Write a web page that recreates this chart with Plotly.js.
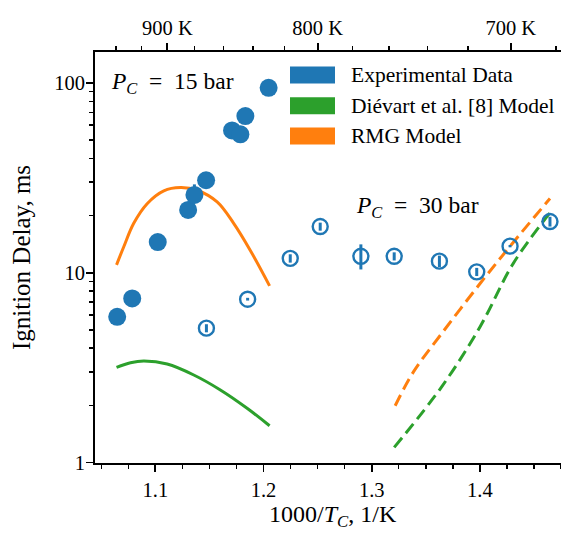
<!DOCTYPE html>
<html><head><meta charset="utf-8">
<script src="https://cdn.plot.ly/plotly-3.0.1.min.js"></script>
<style>html,body{margin:0;padding:0;background:#fff}#chart{width:561px;height:533px}</style>
</head><body><div id="chart"></div>
<script>
// ---- Experimental data, P_C = 15 bar (filled circles)
const exp15X = [1.0647, 1.0786, 1.1022, 1.1303, 1.1361, 1.1469, 1.1709, 1.1786, 1.1832, 1.2047];
const exp15Y = [5.85, 7.32, 14.5, 21.4, 25.7, 30.7, 56.2, 53.6, 66.9, 94.3];
const exp15ErrPlus  = [0.3, 0.35, 0.7, 1.0, 3.5, 1.4, 2.5, 2.5, 3.0, 4.0];
const exp15ErrMinus = [0.3, 0.35, 0.7, 1.0, 1.2, 1.4, 2.5, 2.5, 3.0, 4.0];
// ---- Experimental data, P_C = 30 bar (open circles)
const exp30X = [1.1472, 1.1853, 1.2247, 1.2524, 1.2900, 1.3208, 1.3626, 1.3971, 1.4279, 1.4648];
const exp30Y = [5.1, 7.25, 11.9, 17.5, 12.2, 12.2, 11.5, 10.1, 13.8, 18.6];
const exp30ErrPlus  = [0.25, 0.12, 0.6, 0.85, 1.9, 0.6, 0.8, 0.5, 0.2, 1.1];
const exp30ErrMinus = [0.25, 0.12, 0.6, 0.85, 1.8, 0.6, 0.8, 0.5, 0.2, 1.1];
// ---- RMG model, 15 bar (solid)
const rmg15X = [1.0641, 1.0708, 1.0800, 1.0924, 1.1078, 1.1232, 1.1386, 1.1571, 1.1724, 1.1878, 1.2056];
const rmg15Y = [11.0, 13.7, 18.2, 23.1, 27.0, 28.1, 27.2, 23.6, 18.2, 13.1, 8.52];
// ---- Dievart model, 15 bar (solid)
const die15X = [1.0641, 1.0770, 1.0893, 1.1109, 1.1355, 1.1601, 1.1848, 1.2056];
const die15Y = [3.17, 3.35, 3.42, 3.30, 2.89, 2.41, 1.93, 1.56];
// ---- RMG model, 30 bar (dashed)
const rmg30X = [1.3217, 1.3386, 1.3648, 1.4002, 1.4285, 1.4648];
const rmg30Y = [1.99, 3.0, 4.79, 8.77, 13.9, 24.6];
// ---- Dievart model, 30 bar (dashed)
const die30X = [1.3208, 1.3648, 1.4002, 1.4309, 1.4648];
const die30Y = [1.20, 2.51, 5.19, 11.2, 20.7];
// ---- Tick labels
const xTickVals = [1.1, 1.2, 1.3, 1.4];
const xTickText = ['1.1', '1.2', '1.3', '1.4'];
const yTickVals = [1, 10, 100];
const yTickText = ['1', '10', '100'];
const topTempsMajor = [900, 800, 700];
const topTempsMinor = [940, 920, 880, 860, 840, 820, 780, 760, 740, 720, 680];
const legendNames = ['Experimental Data', 'Diévart et al. [8] Model', 'RMG Model'];
const xTitle = '1000/<i>T</i><sub><i>C</i></sub>, 1/K';
const yTitle = 'Ignition Delay, ms';

const BLUE = '#1f77b4', ORANGE = '#ff7f0e', GREEN = '#2ca02c';
const FONT = 'Liberation Serif, Times New Roman, serif';
const W = 561, H = 533, ML = 95, MT = 52, MB = 70, MR = 0;
const PW = W - ML - MR, PH = H - MT - MB;
const px = x => (x - ML) / PW;
const py = y => (H - MB - y) / PH;
const XR = [1.0442, 1.475];
const YR = [-0.003, 2.163];

const yMinor = [];
[1, 10].forEach(d => { for (let k = 2; k <= 9; k++) yMinor.push(k * d); });

const traces = [
  {x: rmg15X, y: rmg15Y, mode: 'lines', line: {color: ORANGE, width: 3, shape: 'spline'}, showlegend: false, hoverinfo: 'skip'},
  {x: die15X, y: die15Y, mode: 'lines', line: {color: GREEN, width: 3, shape: 'spline'}, showlegend: false, hoverinfo: 'skip'},
  {x: rmg30X, y: rmg30Y, mode: 'lines', line: {color: ORANGE, width: 3, dash: '12px,6px', shape: 'spline'}, showlegend: false, hoverinfo: 'skip'},
  {x: die30X, y: die30Y, mode: 'lines', line: {color: GREEN, width: 3, dash: '12px,6px', shape: 'spline'}, showlegend: false, hoverinfo: 'skip'},
  {x: exp15X, y: exp15Y, mode: 'markers', marker: {color: BLUE, size: 18, symbol: 'circle'},
   error_y: {type: 'data', array: exp15ErrPlus, arrayminus: exp15ErrMinus, color: BLUE, thickness: 3, width: 0}, showlegend: false},
  {x: exp30X, y: exp30Y, xaxis: 'x2', yaxis: 'y', mode: 'markers', marker: {color: BLUE, size: 15, symbol: 'circle-open', line: {width: 2.4, color: BLUE}},
   error_y: {type: 'data', array: exp30ErrPlus, arrayminus: exp30ErrMinus, color: BLUE, thickness: 3, width: 0}, showlegend: false}
];

const legendColors = [BLUE, GREEN, ORANGE];
const legendRowsY = [75, 105.7, 136];
const shapes = [];
const annotations = [];
legendNames.forEach((name, i) => {
  shapes.push({type: 'rect', xref: 'paper', yref: 'paper', x0: px(290), x1: px(335),
    y0: py(legendRowsY[i] - 8.5), y1: py(legendRowsY[i] + 8.5), fillcolor: legendColors[i], line: {width: 0}});
  annotations.push({xref: 'paper', yref: 'paper', x: px(349), y: py(legendRowsY[i]), xanchor: 'left', yanchor: 'middle',
    text: name, showarrow: false, font: {family: FONT, size: 21.5, color: '#000'}});
});
annotations.push({xref: 'paper', yref: 'paper', x: px(109), y: py(83), xanchor: 'left', yanchor: 'middle',
  text: '<i>P</i><sub><i>C</i></sub>\u2002=\u200215 bar', showarrow: false, font: {family: FONT, size: 23.5, color: '#000'}});
annotations.push({xref: 'paper', yref: 'paper', x: px(354), y: py(207), xanchor: 'left', yanchor: 'middle',
  text: '<i>P</i><sub><i>C</i></sub>\u2002=\u200230 bar', showarrow: false, font: {family: FONT, size: 23.5, color: '#000'}});
// x-axis title (placed as annotation so it can sit as low as in the reference)
annotations.push({xref: 'paper', yref: 'paper', x: px(333), y: py(533), xanchor: 'center', yanchor: 'bottom',
  text: xTitle, showarrow: false, font: {family: FONT, size: 24, color: '#000'}});

const layout = {
  width: W, height: H,
  margin: {l: ML, r: MR, t: MT, b: MB, pad: 0},
  paper_bgcolor: '#fff', plot_bgcolor: '#fff',
  font: {family: FONT, size: 20, color: '#000'},
  showlegend: false,
  xaxis: {
    range: XR, showgrid: false, zeroline: false, showline: true, linecolor: '#000', linewidth: 2,
    ticks: 'outside', ticklen: 7, tickwidth: 1.8, tickcolor: '#000',
    tickmode: 'array', tickvals: xTickVals, ticktext: xTickText,
    minor: {dtick: 0.025, tick0: 1.0, ticks: 'outside', ticklen: 4, tickwidth: 1.5, tickcolor: '#000', showgrid: false},
    tickfont: {family: FONT, size: 20.5, color: '#000'}
  },
  xaxis2: {
    overlaying: 'x', side: 'top', anchor: 'y', range: XR, showgrid: false, zeroline: false,
    showline: true, linecolor: '#000', linewidth: 2,
    ticks: 'outside', ticklen: 7, tickwidth: 1.8, tickcolor: '#000',
    tickmode: 'array', tickvals: topTempsMajor.map(t => 1000 / t), ticktext: topTempsMajor.map(t => t + ' K'),
    minor: {tickmode: 'array', tickvals: topTempsMinor.map(t => 1000 / t), ticks: 'outside', ticklen: 4, tickwidth: 1.5, tickcolor: '#000', showgrid: false},
    tickfont: {family: FONT, size: 20.5, color: '#000'}
  },
  yaxis: {
    type: 'log', range: YR, showgrid: false, zeroline: false, showline: true, linecolor: '#000', linewidth: 2,
    ticks: 'outside', ticklen: 7, tickwidth: 1.8, tickcolor: '#000',
    tickmode: 'array', tickvals: yTickVals, ticktext: yTickText, ticklabelstandoff: -3,
    minor: {tickmode: 'array', tickvals: yMinor, ticks: 'outside', ticklen: 4, tickwidth: 1.5, tickcolor: '#000', showgrid: false},
    tickfont: {family: FONT, size: 20.5, color: '#000'},
    title: {text: yTitle, font: {family: FONT, size: 25, color: '#000'}, standoff: 16}
  },
  shapes: shapes,
  annotations: annotations
};

Plotly.newPlot('chart', traces, layout, {displayModeBar: false, staticPlot: true});
</script></body></html>
